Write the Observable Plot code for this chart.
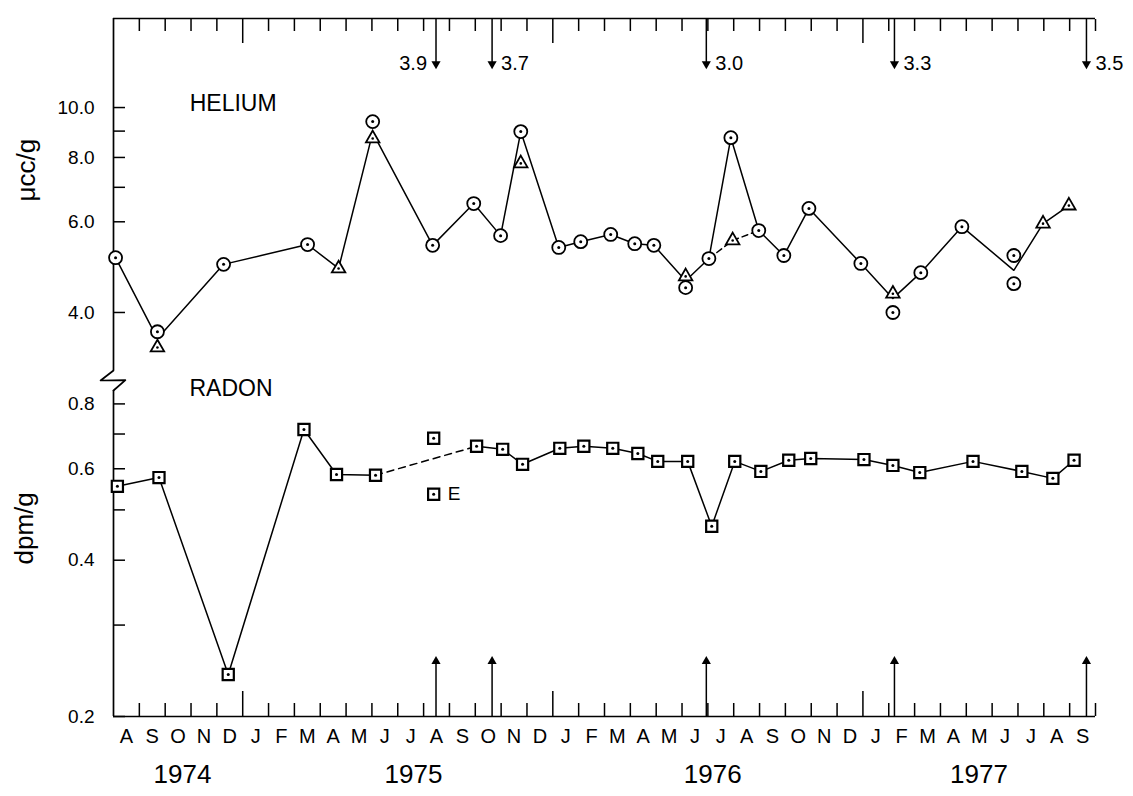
<!DOCTYPE html>
<html><head><meta charset="utf-8">
<script src="https://cdn.jsdelivr.net/npm/d3@7"></script>
<script src="https://cdn.jsdelivr.net/npm/@observablehq/plot@0.6"></script>
<style>
html,body{margin:0;padding:0;background:#fff;}
#chart{position:relative;width:1133px;height:796px;overflow:hidden;background:#fff;}
#chart svg{position:absolute;left:0;display:block;}
</style></head><body><div id="chart"></div>
<script>
// ---- x axis: months since 1 Aug 1974 ----
const monthCount = 38;                       // Aug 1974 .. Sep 1977
const monthInitials = ["J","F","M","A","M","J","J","A","S","O","N","D"];
const firstMonthIndex = 7;                   // August
const yearBoundaries = [5, 17, 29];          // Jan 1975, Jan 1976, Jan 1977
const yearLabels = ["1974", "1975", "1976", "1977"];
const yearLabelMonths = [2.67, 11.61, 23.19, 33.49];

// ---- Helium (µcc/g) ----
const heliumTicks = [4, 6, 7, 8, 9, 10];
const heliumLabeledTicks = [4, 6, 8, 10];
const heliumCircleMonths = [0.08,1.70,4.26,7.51,10.03,12.35,13.94,14.98,15.76,17.23,18.08,19.24,20.17,20.91,22.14,23.04,23.89,24.97,25.94,26.91,28.92,30.16,31.24,32.83,34.84,34.84];
const heliumCircleValues = [5.11,3.67,4.96,5.42,9.39,5.40,6.51,5.64,8.98,5.35,5.49,5.67,5.44,5.40,4.47,5.09,8.74,5.77,5.16,6.37,4.98,4.00,4.78,5.87,5.16,4.55];
const heliumTriangleMonths = [1.70,8.71,10.03,15.76,22.14,23.96,30.16,35.97,36.97];
const heliumTriangleValues = [3.42,4.87,8.71,7.79,4.70,5.52,4.35,5.95,6.45];
const heliumLineMonths = [0.08,1.70,4.26,7.51,8.71,10.03,12.35,13.94,14.98,15.76,17.23,18.08,19.24,20.17,20.91,22.14,23.04,23.89,24.97,25.94,26.91,28.92,30.16,31.24,32.83,34.84,35.97,36.97];
const heliumLineValues = [5.11,3.56,4.96,5.42,4.87,8.94,5.40,6.51,5.64,8.98,5.35,5.49,5.67,5.44,5.40,4.61,5.09,8.74,5.77,5.16,6.37,4.98,4.26,4.78,5.87,4.83,5.95,6.45];
const heliumDashMonths = [23.04, 23.96, 24.97];
const heliumDashValues = [5.09, 5.52, 5.77];

// ---- Radon (dpm/g) ----
const radonTicks = [0.2, 0.3, 0.4, 0.5, 0.6, 0.7, 0.8];
const radonLabeledTicks = [0.2, 0.4, 0.6, 0.8];
const radonMonths = [0.15,1.76,4.44,7.37,8.63,10.14,12.39,12.39,14.05,15.06,15.83,17.27,18.20,19.32,20.29,21.06,22.22,23.15,24.04,25.05,26.13,26.98,29.04,30.16,31.20,33.26,35.15,36.35,37.17];
const radonValues = [0.555,0.577,0.241,0.714,0.585,0.583,0.687,0.536,0.663,0.654,0.612,0.657,0.663,0.657,0.642,0.620,0.620,0.465,0.620,0.593,0.623,0.628,0.625,0.609,0.590,0.620,0.593,0.575,0.623];
const radonSegments = ["a","a","a","a","a","a",null,null,"b","b","b","b","b","b","b","b","b","b","b","b","b","b","b","b","b","b","b","b","b"];
const radonNotes = ["","","","","","","","E","","","","","","","","","","","","","","","","","","","","",""];

// ---- events (arrows with magnitudes) ----
const eventMonths = [12.48, 14.65, 22.94, 30.22, 37.65];
const eventMagnitudes = ["3.9", "3.7", "3.0", "3.3", "3.5"];
const eventLabelSide = ["left", "right", "right", "right", "right"];

// ---- build tables ----
const zip = (ms, vs) => ms.map((m, i) => ({m, v: vs[i]}));
const heCircles = zip(heliumCircleMonths, heliumCircleValues);
const heTriangles = zip(heliumTriangleMonths, heliumTriangleValues);
const heLine = zip(heliumLineMonths, heliumLineValues);
const heDash = zip(heliumDashMonths, heliumDashValues);
const radon = radonMonths.map((m, i) => ({m, v: radonValues[i], seg: radonSegments[i], note: radonNotes[i]}));
const radonA = radon.filter(d => d.seg === "a");
const radonB = radon.filter(d => d.seg === "b");
const radonDash = [radonA[radonA.length - 1], radonB[0]];
const events = eventMonths.map((m, i) => ({m, mag: eventMagnitudes[i], side: eventLabelSide[i]}));
const years = yearLabels.map((y, i) => ({year: y, m: yearLabelMonths[i]}));
const allBoundaries = d3.range(1, monthCount + 1);
const minorBoundaries = allBoundaries.filter(b => !yearBoundaries.includes(b));
const monthCenters = d3.range(monthCount).map(i => i + 0.5);
const monthLabel = (d, i) => monthInitials[(firstMonthIndex + i) % 12];

const xDomain = [0, monthCount];
const heDomain = [3.086, 14.89];
const rnDomain = [0.2, 0.849];
// break symbol on the vertical axis
const breakMark = [{m: 0, v: 3.086}, {m: -0.50, v: 2.951}, {m: 0.46, v: 2.955}, {m: 0, v: 2.822}];

const font = "'Liberation Sans', Arial, sans-serif";
const common = {
  width: 1133, marginLeft: 113, marginRight: 38,
  style: {fontFamily: font, fontSize: "19px", color: "#000", background: "transparent", overflow: "visible"}
};
const axisW = 1.7;
const lineW = 1.5;

const helium = Plot.plot({
  ...common,
  height: 392, marginTop: 18, marginBottom: 22,
  x: {domain: xDomain, label: null},
  y: {type: "log", domain: heDomain, label: null},
  marks: [
    Plot.ruleX([xDomain[0]], {strokeWidth: axisW}),
    Plot.ruleY([heDomain[1]], {strokeWidth: axisW}),
    Plot.line(breakMark, {x: "m", y: "v", strokeWidth: axisW}),
    Plot.axisX(minorBoundaries, {anchor: "top", tickSize: 12, dy: 12, tickFormat: () => "", label: null, strokeWidth: 1.5}),
    Plot.axisX(yearBoundaries, {anchor: "top", tickSize: 24, dy: 24, tickFormat: () => "", label: null, strokeWidth: 1.5}),
    Plot.axisY(heliumTicks, {tickSize: 12, dx: 12, tickFormat: () => "", label: null, strokeWidth: 1.5}),
    Plot.axisY(heliumTicks, {tickSize: 0, tickPadding: 19, fontSize: 19,
      tickFormat: d => heliumLabeledTicks.includes(d) ? d.toFixed(1) : "", label: null}),
    Plot.text(["μcc/g"], {frameAnchor: "left", dx: -87, dy: 7, rotate: -90, fontSize: 26}),
    Plot.text(["HELIUM"], {x: () => 2.95, y: () => 10.18, textAnchor: "start", fontSize: 23}),
    // event arrows (down)
    Plot.ruleX(events, {x: "m", y1: heDomain[1], y2: 12.0, strokeWidth: 1.5}),
    Plot.dot(events, {x: "m", y: 12.15, symbol: "triangle", r: 3.4, fill: "black", rotate: 180}),
    Plot.text(events.filter(d => d.side === "left"), {x: "m", y: 12.17, text: "mag", fontSize: 20, textAnchor: "end", dx: -9}),
    Plot.text(events.filter(d => d.side === "right"), {x: "m", y: 12.17, text: "mag", fontSize: 20, textAnchor: "start", dx: 9}),
    // data
    Plot.line(heLine, {x: "m", y: "v", strokeWidth: lineW}),
    Plot.line(heDash, {x: "m", y: "v", strokeWidth: lineW, strokeDasharray: "6,4"}),
    Plot.dot(heCircles, {x: "m", y: "v", r: 6.5, stroke: "black", strokeWidth: 1.8, fill: "white"}),
    Plot.dot(heCircles, {x: "m", y: "v", r: 1.5, fill: "black"}),
    Plot.dot(heTriangles, {x: "m", y: "v", symbol: "triangle", r: 5, stroke: "black", strokeWidth: 1.8, fill: "white"}),
    Plot.dot(heTriangles, {x: "m", y: "v", r: 1.3, fill: "black"})
  ]
});

const radonPlot = Plot.plot({
  ...common,
  height: 420, marginTop: 14, marginBottom: 80,
  x: {domain: xDomain, label: null},
  y: {type: "log", domain: rnDomain, label: null},
  marks: [
    Plot.ruleX([xDomain[0]], {strokeWidth: axisW}),
    Plot.ruleY([rnDomain[0]], {strokeWidth: axisW}),
    Plot.axisX(minorBoundaries, {anchor: "bottom", tickSize: 13, dy: -13, tickFormat: () => "", label: null, strokeWidth: 1.5}),
    Plot.axisX(yearBoundaries, {anchor: "bottom", tickSize: 25, dy: -25, tickFormat: () => "", label: null, strokeWidth: 1.5}),
    Plot.axisX(monthCenters, {anchor: "bottom", tickSize: 0, tickPadding: 12, fontSize: 20, tickFormat: monthLabel, label: null}),
    Plot.text(years, {x: "m", text: "year", frameAnchor: "bottom", dy: 66, fontSize: 26}),
    Plot.axisY(radonTicks, {tickSize: 12, dx: 12, tickFormat: () => "", label: null, strokeWidth: 1.5}),
    Plot.axisY(radonTicks, {tickSize: 0, tickPadding: 19, fontSize: 19,
      tickFormat: d => radonLabeledTicks.includes(d) ? d.toFixed(1) : "", label: null}),
    Plot.text(["dpm/g"], {frameAnchor: "left", dx: -89, dy: 11, rotate: -90, fontSize: 26}),
    Plot.text(["RADON"], {x: () => 2.94, y: () => 0.857, textAnchor: "start", fontSize: 23}),
    // event arrows (up)
    Plot.ruleX(events, {x: "m", y1: rnDomain[0], y2: 0.258, strokeWidth: 1.5}),
    Plot.dot(events, {x: "m", y: 0.2555, symbol: "triangle", r: 3.4, fill: "black"}),
    // data
    Plot.line(radonA, {x: "m", y: "v", strokeWidth: lineW}),
    Plot.line(radonB, {x: "m", y: "v", strokeWidth: lineW}),
    Plot.line(radonDash, {x: "m", y: "v", strokeWidth: lineW, strokeDasharray: "7,5"}),
    Plot.dot(radon, {x: "m", y: "v", symbol: "square", r: 6.3, stroke: "black", strokeWidth: 2.2, fill: "white"}),
    Plot.dot(radon, {x: "m", y: "v", r: 1.5, fill: "black"}),
    Plot.text(radon.filter(d => d.note), {x: "m", y: "v", text: "note", textAnchor: "start", dx: 14, fontSize: 19})
  ]
});

const chart = document.getElementById("chart");
helium.style.top = "0px";
radonPlot.style.top = "376px";
chart.appendChild(helium);
chart.appendChild(radonPlot);
</script>
</body></html>
